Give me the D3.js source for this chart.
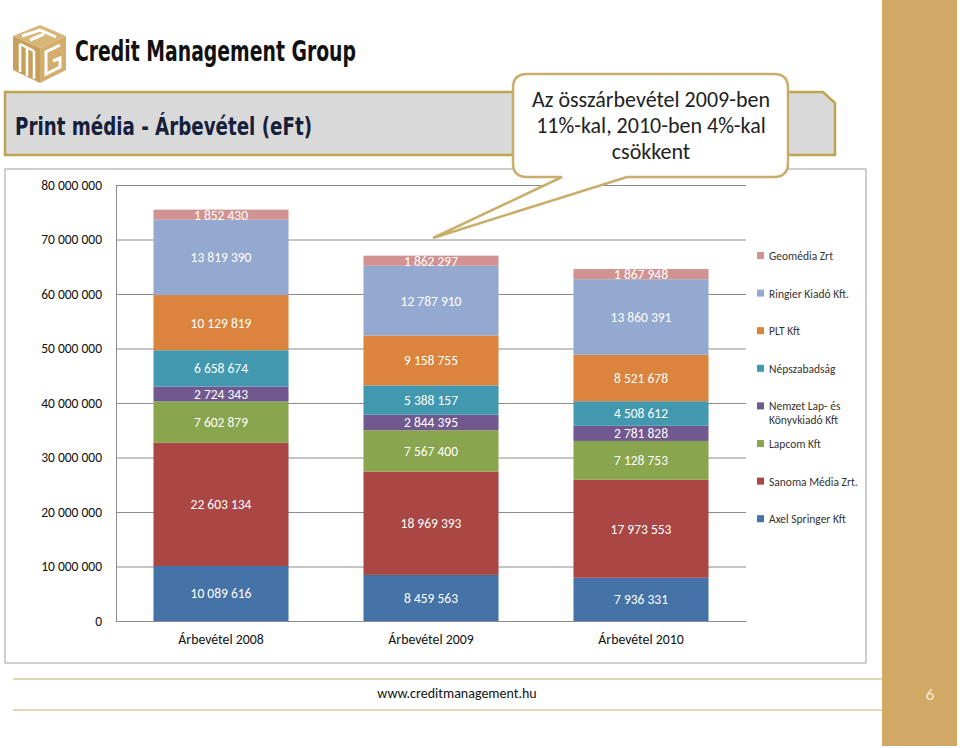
<!DOCTYPE html>
<html>
<head>
<meta charset="utf-8">
<script src="https://cdn.jsdelivr.net/npm/d3@7"></script>
<style>
  body { margin: 0; background: #fff; }
  svg { display: block; }
</style>
</head>
<body>
<svg id="slide" width="960" height="748"></svg>
<script>
'use strict';

// chart data (eFt), stacked bottom to top
const categories = ['Árbevétel 2008', 'Árbevétel 2009', 'Árbevétel 2010'];
const seriesNames = ['Axel Springer Kft', 'Sanoma Média Zrt.', 'Lapcom Kft', 'Nemzet Lap- és Könyvkiadó Kft',
    'Népszabadság', 'PLT Kft', 'Ringier Kiadó Kft.', 'Geomédia Zrt'];
const axelSpringer = [10089616, 8459563, 7936331];
const sanoma = [22603134, 18969393, 17973553];
const lapcom = [7602879, 7567400, 7128753];
const nemzet = [2724343, 2844395, 2781828];
const nepszabadsag = [6658674, 5388157, 4508612];
const plt = [10129819, 9158755, 8521678];
const ringier = [13819390, 12787910, 13860391];
const geomedia = [1852430, 1862297, 1867948];
const yTicks = [0, 10e6, 20e6, 30e6, 40e6, 50e6, 60e6, 70e6, 80e6];
const calloutLines = ['Az összárbevétel 2009-ben', '11%-kal, 2010-ben 4%-kal', 'csökkent'];

const colors = ['#4572a7', '#aa4643', '#89a54e', '#71588f', '#4198af', '#db843d', '#93a9cf', '#d19392'];
const seriesValues = [axelSpringer, sanoma, lapcom, nemzet, nepszabadsag, plt, ringier, geomedia];

const rows = categories.map((c, i) => {
    let r = { cat: c };
    seriesNames.forEach((s, j) => r[s] = seriesValues[j][i]);
    return r;
});

const font = 'Carlito, Lato, sans-serif';
const narrow = '"Liberation Sans Narrow", "DejaVu Sans Condensed", sans-serif';
const gold = '#d1a965';
const fmt = d3.formatLocale({ decimal: ',', thousands: ' ', grouping: [3] }).format(',d');

const svg = d3.select('#slide');

// --- page decoration ---
svg.append('rect').attr('x', 882).attr('y', 0).attr('width', 75).attr('height', 746).attr('fill', gold);
svg.append('text').attr('x', 930).attr('y', 700).attr('text-anchor', 'middle')
    .attr('font-family', font).attr('font-size', 17).attr('fill', '#f7ecd2').text('6');

// logo cube
let logo = svg.append('g').attr('class', 'logo');
logo.append('path').attr('d', 'M40,25 L66,36 L40,48 L13,36 Z').attr('fill', '#d8b678');
logo.append('path').attr('d', 'M13,36 L40,48 L40,83 L13,70 Z').attr('fill', '#c99f5c');
logo.append('path').attr('d', 'M40,48 L66,36 L66,70 L40,83 Z').attr('fill', '#d3ad6c');
logo.append('path').attr('d', 'M22,36 L40,30 L56,37 M30,40 L44,34')
    .attr('stroke', '#fff').attr('stroke-width', 3).attr('fill', 'none');
logo.append('path').attr('d', 'M20,44 L20,72 M27,47 L27,76 M34,51 L34,79 M20,44 L34,51')
    .attr('stroke', '#fff').attr('stroke-width', 2.5).attr('fill', 'none');
logo.append('path').attr('d', 'M60,45 L46,52 L46,74 L60,67 L60,58 L53,61')
    .attr('stroke', '#fff').attr('stroke-width', 3).attr('fill', 'none');
svg.append('text').attr('x', 75).attr('y', 61)
    .attr('font-family', narrow).attr('font-weight', 'bold').attr('font-size', 29)
    .attr('textLength', 281).attr('lengthAdjust', 'spacingAndGlyphs')
    .attr('fill', '#111').text('Credit Management Group');

// title band
svg.append('path').attr('d', 'M5,92 L823,92 L835,103 L835,155 L5,155 Z')
    .attr('fill', '#d9d9d9').attr('stroke', '#bda552').attr('stroke-width', 2.5);
svg.append('text').attr('x', 15).attr('y', 135)
    .attr('font-family', narrow).attr('font-weight', 'bold').attr('font-size', 25)
    .attr('textLength', 297).attr('lengthAdjust', 'spacingAndGlyphs')
    .attr('fill', '#15203a').text('Print média -  Árbevétel (eFt)');

// footer
svg.selectAll('line.footer').data([679, 710]).join('line').attr('class', 'footer')
    .attr('x1', 13).attr('x2', 882).attr('y1', d => d).attr('y2', d => d)
    .attr('stroke', '#e2d7b4').attr('stroke-width', 2);
svg.append('text').attr('x', 457).attr('y', 698).attr('text-anchor', 'middle')
    .attr('font-family', font).attr('font-size', 14).attr('fill', '#111').text('www.creditmanagement.hu');

// chart frame
svg.append('rect').attr('x', 5).attr('y', 169).attr('width', 861).attr('height', 494)
    .attr('fill', '#fff').attr('stroke', '#a0a0a0');

// --- chart ---
const x = d3.scaleBand().domain(categories).range([116, 746]).paddingInner(0.357).paddingOuter(0.1785);
const y = d3.scaleLinear().domain([0, 80e6]).range([621, 185]);

svg.append('g').attr('class', 'grid').attr('transform', 'translate(116,0)')
    .call(d3.axisLeft(y).tickValues(yTicks).tickSize(-630).tickFormat(''))
    .call(g => g.select('.domain').remove())
    .call(g => g.selectAll('line').attr('stroke', '#8c8c8c'));

const stack = d3.stack().keys(seriesNames)(rows);

let layers = svg.append('g').attr('class', 'bars').selectAll('g').data(stack).join('g')
    .attr('fill', (d, i) => colors[i]);
layers.selectAll('rect').data(d => d).join('rect')
    .attr('x', d => x(d.data.cat))
    .attr('width', x.bandwidth())
    .attr('y', d => y(d[1]))
    .attr('height', d => y(d[0]) - y(d[1]));

let labels = svg.append('g').attr('class', 'labels').selectAll('g').data(stack).join('g');
labels.selectAll('text').data(d => d).join('text')
    .attr('x', d => x(d.data.cat) + x.bandwidth() / 2)
    .attr('y', d => (y(d[0]) + y(d[1])) / 2)
    .attr('dy', '0.36em')
    .attr('text-anchor', 'middle')
    .attr('font-family', font).attr('font-size', 13.5).attr('fill', '#fff')
    .text(d => fmt(d[1] - d[0]));

svg.append('g').attr('class', 'y-axis').attr('transform', 'translate(116,0)')
    .call(d3.axisLeft(y).tickValues(yTicks).tickSize(0).tickPadding(14).tickFormat(fmt))
    .call(g => g.select('.domain').attr('stroke', '#8c8c8c'))
    .call(g => g.selectAll('text').attr('font-family', font).attr('font-size', 13.5).attr('fill', '#111'));

svg.append('g').attr('class', 'x-axis').attr('transform', 'translate(0,621)')
    .call(d3.axisBottom(x).tickSize(0).tickPadding(13))
    .call(g => g.select('.domain').attr('stroke', '#8c8c8c'))
    .call(g => g.selectAll('text').attr('font-family', font).attr('font-size', 13.8).attr('fill', '#111'));

// legend, top entry first
const legendItems = seriesNames.map((s, i) => ({ name: s, color: colors[i] })).reverse();
let legend = svg.append('g').attr('class', 'legend').selectAll('g').data(legendItems).join('g')
    .attr('transform', (d, i) => 'translate(757,' + (256 + i * 37.6) + ')');
legend.append('rect').attr('x', 0).attr('y', -4).attr('width', 7).attr('height', 7).attr('fill', d => d.color);
legend.append('text').attr('x', 12).attr('dy', '0.34em')
    .attr('font-family', font).attr('font-size', 11.5).attr('fill', '#333')
    .each(function(d) {
        let parts = d.name === 'Nemzet Lap- és Könyvkiadó Kft' ? ['Nemzet Lap- és', 'Könyvkiadó Kft'] : [d.name];
        d3.select(this).selectAll('tspan').data(parts).join('tspan')
            .attr('x', 12).attr('dy', (p, k) => k ? '1.15em' : null).text(p => p);
    });

// callout bubble
svg.append('path')
    .attr('d', 'M527,74 H774 Q788,74 788,88 V163 Q788,177 774,177 H627 L433,238 L562,177 H527 Q513,177 513,163 V88 Q513,74 527,74 Z')
    .attr('fill', '#fff').attr('stroke', '#c9ad6b').attr('stroke-width', 2.5);
svg.append('g').selectAll('text').data(calloutLines).join('text')
    .attr('x', 651).attr('y', (d, i) => 107 + i * 26)
    .attr('text-anchor', 'middle')
    .attr('font-family', font).attr('font-size', 22).attr('fill', '#222')
    .text(d => d);
</script>
</body>
</html>
